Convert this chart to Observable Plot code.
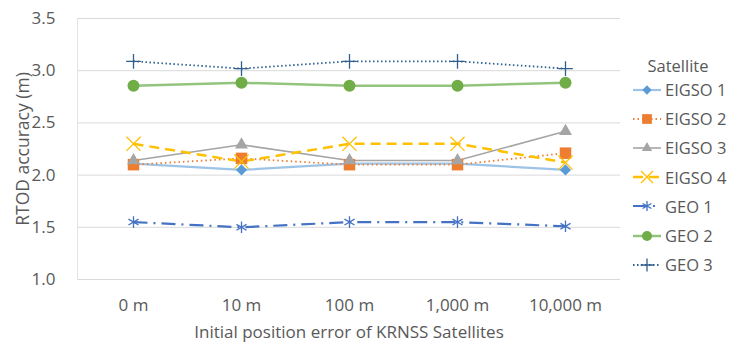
<!DOCTYPE html>
<html>
<head>
<meta charset="utf-8">
<script src="https://cdn.jsdelivr.net/npm/d3@7"></script>
<script src="https://cdn.jsdelivr.net/npm/@observablehq/plot@0.6"></script>
<style>
  body { margin: 0; background: #fff; }
  #wrap { position: relative; width: 738px; height: 352px; font-family: "Open Sans", Lato, sans-serif; color: #595959; }
  #legend { position: absolute; left: 632px; top: 56px; font-size: 16.5px; }
  #legend .title { text-align: center; width: 100px; margin-left: -4px; height: 19px; line-height: 19px; }
  #legend .row { display: flex; align-items: center; height: 29.2px; }
  #legend .row span { margin-left: 3px; }
</style>
</head>
<body>
<div id="wrap"><div id="chart"></div><div id="legend"></div></div>
<script>
const categories = ["0 m", "10 m", "100 m", "1,000 m", "10,000 m"];
const seriesNames = ["EIGSO 1", "EIGSO 2", "EIGSO 3", "EIGSO 4", "GEO 1", "GEO 2", "GEO 3"];
const eigso1 = [2.11, 2.05, 2.11, 2.11, 2.05];
const eigso2 = [2.10, 2.16, 2.10, 2.10, 2.21];
const eigso3 = [2.14, 2.29, 2.14, 2.14, 2.42];
const eigso4 = [2.30, 2.13, 2.30, 2.30, 2.12];
const geo1 = [1.55, 1.50, 1.55, 1.55, 1.51];
const geo2 = [2.855, 2.885, 2.855, 2.855, 2.885];
const geo3 = [3.09, 3.02, 3.09, 3.09, 3.02];
const yTicks = [1.0, 1.5, 2.0, 2.5, 3.0, 3.5];

const values = [eigso1, eigso2, eigso3, eigso4, geo1, geo2, geo3];
const styles = {
  "EIGSO 1": {line: "#9DC3E6", lw: 2.2, dash: null, marker: "#5B9BD5", symbol: "diamond2", fill: true, r: 5, lr: 4.2},
  "EIGSO 2": {line: "#ED7D31", lw: 1.8, dash: "1.5,3", marker: "#ED7D31", symbol: "square", fill: true, r: 6.5, lr: 5.5},
  "EIGSO 3": {line: "#A5A5A5", lw: 1.6, dash: null, marker: "#A5A5A5", symbol: "triangle", fill: true, r: 4.8, lr: 3.8},
  "EIGSO 4": {line: "#FFC000", lw: 2.5, dash: "10,6", marker: "#FFC000", symbol: "times", fill: false, r: 6.5, lr: 5.5},
  "GEO 1": {line: "#4472C4", lw: 2.2, dash: "14,6,2,6", marker: "#4472C4", symbol: "asterisk", fill: false, r: 5.5, lr: 4.8},
  "GEO 2": {line: "#93C47D", lw: 2.5, dash: null, marker: "#70AD47", symbol: "circle", fill: true, r: 6, lr: 5},
  "GEO 3": {line: "#2E5F8F", lw: 1.8, dash: "1.5,2.5", marker: "#2E5F8F", symbol: "plus", fill: false, r: 4.8, lr: 4.2}
};

const data = [];
seriesNames.forEach((s, i) => categories.forEach((c, j) => data.push({series: s, cat: c, value: values[i][j]})));

const marks = [
  Plot.gridY(yTicks, {stroke: "#D9D9D9", strokeOpacity: 1, strokeWidth: 1}),
  Plot.frame({anchor: "left", stroke: "#E4E4E4"}),
  Plot.axisY(yTicks, {tickFormat: d3.format(".1f"), tickSize: 0, tickPadding: 22, fontSize: 17, label: null}),
  Plot.axisY([], {tickSize: 0, fontSize: 17.5, label: "RTOD accuracy (m)", labelAnchor: "center", labelArrow: "none", labelOffset: 61}),
  Plot.axisX({tickSize: 0, tickPadding: 19, fontSize: 17, label: null}),
  Plot.axisX([], {tickSize: 0, fontSize: 17, label: "Initial position error of KRNSS Satellites", labelAnchor: "center", labelArrow: "none", labelOffset: 58})
];
for (const s of seriesNames) {
  const st = styles[s];
  const sub = data.filter(d => d.series === s);
  marks.push(Plot.line(sub, {x: "cat", y: "value", stroke: st.line, strokeWidth: st.lw, strokeDasharray: st.dash, strokeLinecap: "butt"}));
}
for (const s of seriesNames) {
  const st = styles[s];
  const sub = data.filter(d => d.series === s);
  marks.push(Plot.dot(sub, {x: "cat", y: "value", symbol: () => st.symbol, r: st.r,
    fill: st.fill ? st.marker : "none", stroke: st.fill ? "none" : st.marker, strokeWidth: 1.3}));
}

const chart = Plot.plot({
  width: 738, height: 352,
  marginLeft: 77, marginRight: 118, marginTop: 18, marginBottom: 73,
  style: {fontFamily: "'Open Sans', Lato, sans-serif", color: "#595959", fontSize: "16px", background: "#fff"},
  x: {type: "point", domain: categories, padding: 0.5, axis: null},
  y: {domain: [1, 3.5], axis: null},
  symbol: {type: "identity"},
  marks
});
document.getElementById("chart").appendChild(chart);

// legend
const legend = d3.select("#legend");
legend.append("div").attr("class", "title").text("Satellite");
const symMap = {circle: d3.symbolCircle, square: d3.symbolSquare, triangle: d3.symbolTriangle, times: d3.symbolTimes, asterisk: d3.symbolAsterisk, plus: d3.symbolPlus, diamond2: d3.symbolDiamond2};
for (const s of seriesNames) {
  const st = styles[s];
  const row = legend.append("div").attr("class", "row");
  const svg = row.append("svg").attr("width", 30).attr("height", 20);
  svg.append("line").attr("x1", 1).attr("x2", 29).attr("y1", 10).attr("y2", 10)
    .attr("stroke", st.line).attr("stroke-width", st.lw).attr("stroke-dasharray", st.dash);
  const area = Math.PI * st.lr * st.lr;
  svg.append("path").attr("transform", "translate(15,10)")
    .attr("d", d3.symbol(symMap[st.symbol], area)())
    .attr("fill", st.fill ? st.marker : "none").attr("stroke", st.fill ? "none" : st.marker).attr("stroke-width", 1.3);
  row.append("span").text(s);
}
</script>
</body>
</html>
